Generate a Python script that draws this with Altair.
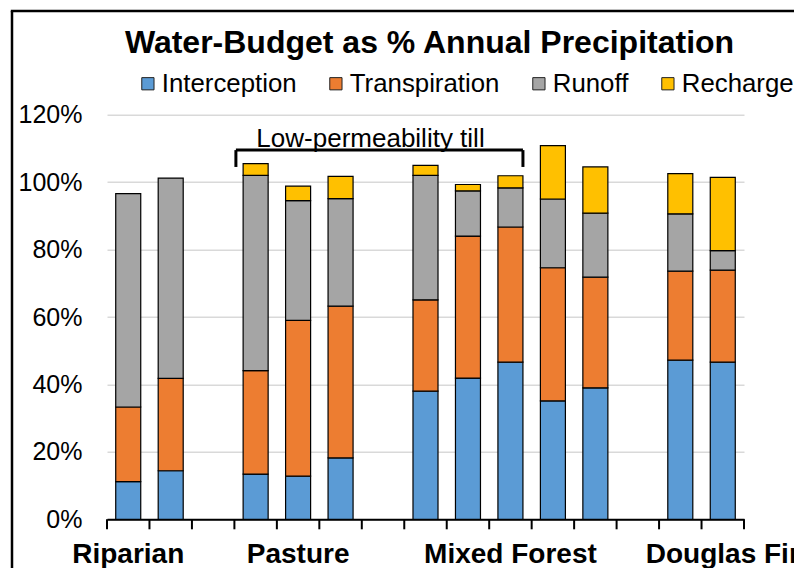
import altair as alt
import pandas as pd

# ---------------- data ----------------
slots = ["R1", "R2", "G1", "P1", "P2", "P3", "G2",
         "M1", "M2", "M3", "M4", "M5", "G3", "D1", "D2"]
bar_slots = ["R1", "R2", "P1", "P2", "P3", "M1", "M2", "M3", "M4", "M5", "D1", "D2"]
series = ["Interception", "Transpiration", "Runoff", "Recharge"]
colors = ["#5B9BD5", "#ED7D31", "#A5A5A5", "#FFC000"]

interception = [11.2, 14.4, 13.4, 12.8, 18.2, 38.0, 41.9, 46.6, 35.1, 39.0, 47.2, 46.6]
transpiration = [22.1, 27.4, 30.7, 46.2, 45.0, 27.1, 42.1, 40.1, 39.5, 32.8, 26.4, 27.3]
runoff = [63.3, 59.4, 57.9, 35.5, 31.9, 36.9, 13.4, 11.6, 20.4, 19.0, 17.0, 5.8]
recharge = [0.0, 0.0, 3.5, 4.3, 6.6, 3.0, 1.9, 3.6, 15.8, 13.7, 11.9, 21.7]

group_labels = ["Riparian", "Pasture", "Mixed Forest", "Douglas Fir"]
group_label_slots = ["R1", "P2", "M3", "D2"]

y_ticks = [0, 20, 40, 60, 80, 100, 120]

title_text = ["Water-Budget as % Annual Precipitation"]
bracket_label = "Low-permeability till"
bracket_from = ["P1"]
bracket_to = ["M3"]
bracket_label_slot = ["G2"]
bracket_level = [109.5]
bracket_foot = [104.5]
bracket_text_level = [110.5]

# ---------------- tables ----------------
rows = []
for vals, s, k in zip([interception, transpiration, runoff, recharge], series, range(4)):
    for slot, v in zip(bar_slots, vals):
        if v > 0:
            rows.append({"slot": slot, "series": s, "value": v, "order": k})
bars_df = pd.DataFrame(rows)
ticks_df = pd.DataFrame({"slot": slots})
last_tick_df = pd.DataFrame({"slot": [slots[-1]]})
labels_df = pd.DataFrame({"slot": group_label_slots, "label": group_labels})
bracket_df = pd.DataFrame({"x_from": bracket_from, "x_to": bracket_to,
                           "lvl": bracket_level, "foot": bracket_foot,
                           "tlvl": bracket_text_level, "tslot": bracket_label_slot,
                           "label": [bracket_label]})
title_df = pd.DataFrame({"title": title_text})

# ---------------- layout ----------------
W, H = 637, 404.6
PAD_IN = 0.411
STEP = W / len(slots)
HALF_GAP = PAD_IN / 2 * STEP   # distance from bar edge to slot boundary
FONT = "Liberation Sans"

xscale = alt.Scale(domain=slots, paddingInner=PAD_IN, paddingOuter=PAD_IN / 2)
xaxis = alt.Axis(title=None, labels=False, ticks=False, grid=False, domain=True,
                 domainColor="black", domainWidth=2)
yscale = alt.Scale(domain=[0, 120], nice=False)
yaxis = alt.Axis(title=None, values=y_ticks, labelExpr="datum.value + '%'",
                 ticks=False, tickSize=0, domain=False, grid=True,
                 gridColor="#d9d9d9", gridWidth=1.5, labelFont=FONT,
                 labelFontSize=25, labelColor="black", labelPadding=25)

bars = alt.Chart(bars_df).mark_bar(stroke="black", strokeWidth=1.2).encode(
    x=alt.X("slot:N", scale=xscale, axis=xaxis),
    y=alt.Y("sum(value):Q", scale=yscale, axis=yaxis, stack="zero"),
    color=alt.Color("series:N",
                    scale=alt.Scale(domain=series, range=colors),
                    legend=alt.Legend(title=None, orient="none", direction="horizontal",
                                      legendX=28, legendY=-44, padding=0,
                                      symbolType="square", symbolSize=150,
                                      symbolStrokeColor="#222222", symbolStrokeWidth=1,
                                      labelFont=FONT, labelFontSize=25.8,
                                      labelColor="black", labelOffset=1,
                                      columnPadding=26, labelLimit=400)),
    order=alt.Order("order:Q", sort="ascending"),
)

ticks = alt.Chart(ticks_df).mark_rule(color="black", strokeWidth=2, xOffset=-HALF_GAP).encode(
    x=alt.X("slot:N", scale=xscale, axis=xaxis, bandPosition=0),
    y=alt.value(H), y2=alt.value(H + 10),
)
last_tick = alt.Chart(last_tick_df).mark_rule(color="black", strokeWidth=2, xOffset=HALF_GAP).encode(
    x=alt.X("slot:N", scale=xscale, axis=xaxis, bandPosition=1),
    y=alt.value(H), y2=alt.value(H + 10),
)

group_text = alt.Chart(labels_df).mark_text(
    font=FONT, fontSize=28, fontWeight="bold", color="black",
    align="center", baseline="alphabetic"
).encode(
    x=alt.X("slot:N", scale=xscale, axis=xaxis, bandPosition=0.5),
    y=alt.value(H + 44),
    text="label:N",
)

bracket_h = alt.Chart(bracket_df).mark_rule(color="black", strokeWidth=3,
                                             xOffset=-HALF_GAP + 1.5).encode(
    x=alt.X("x_from:N", scale=xscale, axis=xaxis, bandPosition=0),
    x2=alt.X2("x_to", bandPosition=1),
    y=alt.Y("lvl:Q", scale=yscale, axis=yaxis),
)
bracket_l = alt.Chart(bracket_df).mark_rule(color="black", strokeWidth=3,
                                             xOffset=-HALF_GAP + 1.5).encode(
    x=alt.X("x_from:N", scale=xscale, axis=xaxis, bandPosition=0),
    y=alt.Y("foot:Q", scale=yscale, axis=yaxis),
    y2="lvl",
)
bracket_r = alt.Chart(bracket_df).mark_rule(color="black", strokeWidth=3).encode(
    x=alt.X("x_to:N", scale=xscale, axis=xaxis, bandPosition=1),
    y=alt.Y("foot:Q", scale=yscale, axis=yaxis),
    y2="lvl",
)
bracket_t = alt.Chart(bracket_df).mark_text(
    font=FONT, fontSize=26, color="black", align="center", baseline="alphabetic"
).encode(
    x=alt.X("tslot:N", scale=xscale, axis=xaxis, bandPosition=0),
    y=alt.Y("tlvl:Q", scale=yscale, axis=yaxis),
    text="label:N",
)

title_mark = alt.Chart(title_df).mark_text(
    font=FONT, fontSize=32, fontWeight="bold", color="black",
    align="center", baseline="alphabetic"
).encode(
    x=alt.value(W / 2 + 4), y=alt.value(-61.7), text="title:N",
)

frame_v = alt.Chart(bracket_df).mark_rule(color="black", strokeWidth=2.5).encode(
    x=alt.value(-95), y=alt.value(-103.7), y2=alt.value(H + 80),
)
frame_h = alt.Chart(bracket_df).mark_rule(color="black", strokeWidth=2.5).encode(
    x=alt.value(-96.2), x2=alt.value(W + 80), y=alt.value(-103.7),
)

chart = alt.layer(
    bars, ticks, last_tick, group_text, bracket_h, bracket_l, bracket_r, bracket_t,
    title_mark, frame_v, frame_h,
).properties(
    width=W, height=H,
    autosize=alt.AutoSizeParams(type="none"),
    padding={"left": 99, "top": 106.7, "right": 50, "bottom": 48.7},
).configure_view(strokeWidth=0)

chart.save("out.html", embed_options={"renderer": "svg", "actions": False})
